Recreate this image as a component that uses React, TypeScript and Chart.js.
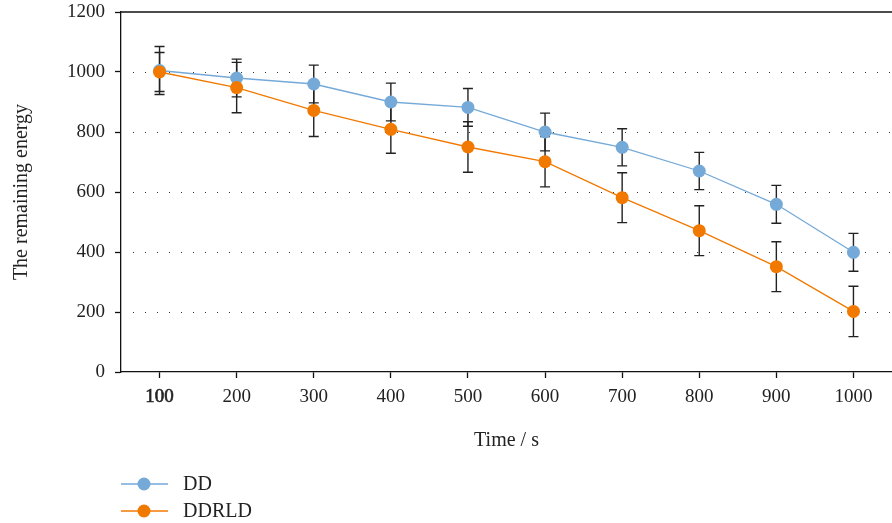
import React, { useEffect, useRef } from 'react';
import { Chart, registerables } from 'chart.js';
Chart.register(...registerables);

const categories = ['100', '200', '300', '400', '500', '600', '700', '800', '900', '1000'];
const ddValues = [1005, 980, 960, 900, 882, 800, 749, 670, 559, 399];
const ddErrors = [80, 63, 63, 63, 63, 63, 62, 62, 63, 63];
const ddrldValues = [1000, 948, 872, 809, 750, 701, 581, 471, 351, 202];
const ddrldErrors = [65, 84, 87, 80, 84, 84, 83, 83, 83, 84];
const yTickValues = [0, 200, 400, 600, 800, 1000, 1200];
const dottedGridValues = [200, 400, 600, 800, 1000];

const BLUE = 'rgb(116,169,216)';
const ORANGE = 'rgb(242,121,0)';
const FONT = "'Liberation Serif', 'DejaVu Serif', serif";
const errors = [ddErrors, ddrldErrors];

const decorPlugin = {
  id: 'decor',
  beforeDatasetsDraw(chart: any) {
    const { ctx, chartArea: ca } = chart;
    const y = chart.scales.y;
    ctx.save();
    ctx.strokeStyle = '#333';
    ctx.lineWidth = 1;
    ctx.setLineDash([1, 11]);
    dottedGridValues.forEach((v) => {
      const py = Math.round(y.getPixelForValue(v)) + 0.5;
      ctx.beginPath();
      ctx.moveTo(ca.left + 12, py);
      ctx.lineTo(ca.right, py);
      ctx.stroke();
    });
    ctx.setLineDash([]);
    ctx.strokeStyle = '#111';
    ctx.lineWidth = 1.3;
    const top = y.getPixelForValue(1200);
    ctx.beginPath();
    ctx.moveTo(ca.left, top);
    ctx.lineTo(ca.right, top);
    ctx.stroke();
    ctx.strokeStyle = '#222';
    ctx.lineWidth = 1.4;
    chart.data.datasets.forEach((ds: any, di: number) => {
      const meta = chart.getDatasetMeta(di);
      meta.data.forEach((pt: any, i: number) => {
        const v = ds.data[i];
        const e = errors[di][i];
        const x = pt.x;
        const y1 = y.getPixelForValue(v + e);
        const y2 = y.getPixelForValue(v - e);
        ctx.beginPath();
        ctx.moveTo(x, y1);
        ctx.lineTo(x, y2);
        ctx.moveTo(x - 5, y1);
        ctx.lineTo(x + 5, y1);
        ctx.moveTo(x - 5, y2);
        ctx.lineTo(x + 5, y2);
        ctx.stroke();
      });
    });
    ctx.restore();
  },
  afterDraw(chart: any) {
    const { ctx, chartArea: ca } = chart;
    ctx.save();
    chart.data.datasets.forEach((ds: any, i: number) => {
      const cy = ca.bottom + 112 + i * 27;
      ctx.strokeStyle = ds.borderColor;
      ctx.lineWidth = 1.3;
      ctx.beginPath();
      ctx.moveTo(ca.left, cy);
      ctx.lineTo(ca.left + 47, cy);
      ctx.stroke();
      ctx.fillStyle = ds.backgroundColor;
      ctx.beginPath();
      ctx.arc(ca.left + 23, cy, 6.5, 0, Math.PI * 2);
      ctx.fill();
      ctx.fillStyle = '#222';
      ctx.font = `20px ${FONT}`;
      ctx.textBaseline = 'middle';
      ctx.textAlign = 'left';
      ctx.fillText(ds.label, ca.left + 62, cy + 1);
    });
    ctx.restore();
  },
};

export default function App() {
  const ref = useRef<HTMLCanvasElement>(null);
  useEffect(() => {
    document.body.style.margin = '0';
    const chart = new Chart(ref.current!, {
      type: 'line',
      data: {
        labels: categories,
        datasets: [
          {
            label: 'DD',
            data: ddValues,
            borderColor: BLUE,
            backgroundColor: BLUE,
            pointBackgroundColor: BLUE,
            pointBorderColor: BLUE,
            pointRadius: 6.5,
            pointBorderWidth: 0,
            borderWidth: 1.3,
            order: 1,
          },
          {
            label: 'DDRLD',
            data: ddrldValues,
            borderColor: ORANGE,
            backgroundColor: ORANGE,
            pointBackgroundColor: ORANGE,
            pointBorderColor: ORANGE,
            pointRadius: 6.5,
            pointBorderWidth: 0,
            borderWidth: 1.3,
            order: 0,
          },
        ],
      },
      options: {
        responsive: false,
        animation: false,
        layout: { autoPadding: false, padding: { top: 12, right: 0, left: 0, bottom: 0 } },
        plugins: { legend: { display: false }, tooltip: { enabled: false } },
        scales: {
          x: {
            type: 'category',
            offset: true,
            grid: { drawOnChartArea: false, tickLength: 6, tickColor: '#111', tickWidth: 1.3 },
            border: { color: '#111', width: 1.3 },
            ticks: {
              color: '#222',
              font: { family: FONT, size: 19 },
              padding: 8,
              textStrokeColor: '#222',
              textStrokeWidth: (c: any) => (c.index === 0 ? 0.6 : 0),
            },
            title: {
              display: true,
              text: 'Time / s',
              color: '#222',
              font: { family: FONT, size: 20 },
              padding: { top: 0, bottom: 70 },
            },
            afterFit: (s: any) => {
              s.height = 151;
              s.paddingLeft = 0;
              s.paddingRight = 0;
            },
          },
          y: {
            min: 0,
            max: 1200,
            afterBuildTicks: (s: any) => {
              s.ticks = yTickValues.map((v) => ({ value: v }));
            },
            grid: { drawOnChartArea: false, tickLength: 6, tickColor: '#111', tickWidth: 1.3 },
            border: { color: '#111', width: 1.3 },
            ticks: {
              color: '#222',
              font: { family: FONT, size: 19 },
              padding: 10,
              callback: (v: any) => String(v),
            },
            title: {
              display: true,
              text: 'The remaining energy',
              color: '#222',
              font: { family: FONT, size: 20 },
              padding: { top: 10, bottom: 0 },
            },
            afterFit: (s: any) => {
              s.width = 121;
              s.paddingTop = 0;
              s.paddingBottom = 0;
            },
          },
        },
      },
      plugins: [decorPlugin],
    });
    return () => chart.destroy();
  }, []);
  return (
    <div style={{ width: 892, height: 523 }}>
      <canvas ref={ref} width={892} height={523} style={{ display: 'block' }} />
    </div>
  );
}
